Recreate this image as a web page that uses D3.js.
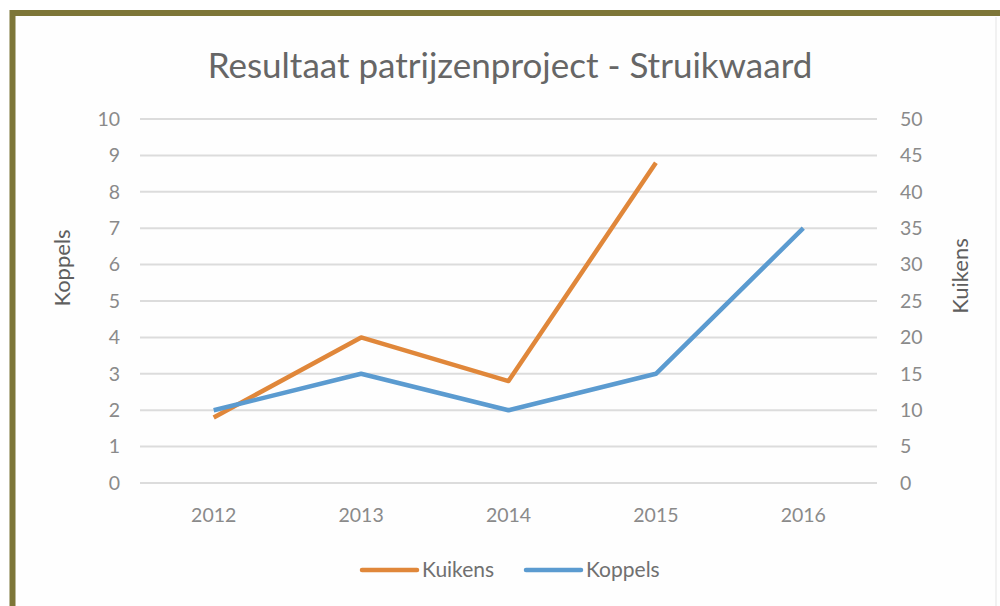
<!DOCTYPE html>
<html>
<head>
<meta charset="utf-8">
<script src="https://cdn.jsdelivr.net/npm/d3@7"></script>
<style>
  body { margin: 0; background: #fff; }
  svg text { font-family: Lato, "Open Sans", sans-serif; }
</style>
</head>
<body>
<div id="chart"></div>
<script>
// data
var years = ["2012", "2013", "2014", "2015", "2016"];
var koppels = [2, 3, 2, 3, 7];          // left axis
var kuikens = [9, 20, 14, 44, null];    // right axis
var leftTicks = [0, 1, 2, 3, 4, 5, 6, 7, 8, 9, 10];
var rightTicks = [0, 5, 10, 15, 20, 25, 30, 35, 40, 45, 50];

var W = 1000, H = 606;
var margin = {top: 119, left: 140, right: 123, bottom: 123};
var width = W - margin.left - margin.right;
var height = H - margin.top - margin.bottom;

var svg = d3.select("#chart").append("svg")
  .attr("width", W)
  .attr("height", H);

/* frame like the photo */
svg.append("rect")
  .attr("x", 12.5).attr("y", 13)
  .attr("width", W + 10).attr("height", H + 10)
  .attr("fill", "#fefefe")
  .attr("stroke", "#7d7638")
  .attr("stroke-width", 6);
svg.append("line")
  .attr("x1", 996).attr("x2", 996).attr("y1", 17).attr("y2", H)
  .attr("stroke", "#ececec").attr("stroke-width", 1.5);

/* scales */
var x = d3.scaleBand().domain(years).range([margin.left, margin.left + width]);
var yL = d3.scaleLinear().domain([0, 10]).range([margin.top + height, margin.top]);
var yR = d3.scaleLinear().domain([0, 50]).range([margin.top + height, margin.top]);

/* gridlines */
svg.append("g")
  .selectAll("line")
  .data(leftTicks)
  .join("line")
  .attr("x1", margin.left).attr("x2", margin.left + width)
  .attr("y1", function(d){ return yL(d); })
  .attr("y2", function(d){ return yL(d); })
  .attr("stroke", "#dcdcdc")
  .attr("stroke-width", 2);

/* axes */
var leftAxis = svg.append("g")
  .attr("transform", "translate(" + (margin.left - 20) + ",0)")
  .call(d3.axisLeft(yL).tickValues(leftTicks).tickSize(0).tickPadding(0));
var rightAxis = svg.append("g")
  .attr("transform", "translate(" + (margin.left + width + 23) + ",0)")
  .call(d3.axisRight(yR).tickValues(rightTicks).tickSize(0).tickPadding(0));
var bottomAxis = svg.append("g")
  .attr("transform", "translate(0," + (margin.top + height + 22) + ")")
  .call(d3.axisBottom(x).tickSize(0).tickPadding(0));

[leftAxis, rightAxis, bottomAxis].forEach(function(a){
  a.select(".domain").remove();
  a.selectAll("text")
    .style("font-family", "Lato, sans-serif")
    .style("font-size", "19.5px")
    .attr("fill", "#8a8a8a");
});
bottomAxis.selectAll("text").attr("dy", "0.85em");

/* lines */
var lineL = d3.line()
  .defined(function(d){ return d != null; })
  .x(function(d, i){ return x(years[i]) + x.bandwidth() / 2; })
  .y(function(d){ return yL(d); });
var lineR = d3.line()
  .defined(function(d){ return d != null; })
  .x(function(d, i){ return x(years[i]) + x.bandwidth() / 2; })
  .y(function(d){ return yR(d); });

svg.append("path")
  .datum(kuikens)
  .attr("d", lineR)
  .attr("fill", "none")
  .attr("stroke", "#e0873a")
  .attr("stroke-width", 4.5)
  .attr("stroke-linejoin", "round");

svg.append("path")
  .datum(koppels)
  .attr("d", lineL)
  .attr("fill", "none")
  .attr("stroke", "#5b9bd0")
  .attr("stroke-width", 4.5)
  .attr("stroke-linejoin", "round");

/* title */
svg.append("text")
  .attr("x", 510).attr("y", 78)
  .attr("text-anchor", "middle")
  .attr("fill", "#666")
  .style("font-size", "35px")
  .text("Resultaat patrijzenproject - Struikwaard");

/* axis titles */
svg.append("text")
  .attr("transform", "translate(70,268) rotate(-90)")
  .attr("text-anchor", "middle")
  .attr("fill", "#5f5f5f")
  .style("font-size", "22px")
  .text("Koppels");
svg.append("text")
  .attr("transform", "translate(968,276) rotate(-90)")
  .attr("text-anchor", "middle")
  .attr("fill", "#5f5f5f")
  .style("font-size", "22px")
  .text("Kuikens");

/* legend */
var legend = [
  {name: "Kuikens", color: "#e0873a", x: 362},
  {name: "Koppels", color: "#5b9bd0", x: 526}
];
var lg = svg.append("g").selectAll("g").data(legend).join("g")
  .attr("transform", function(d){ return "translate(" + d.x + ",570)"; });
lg.append("line")
  .attr("x1", 0).attr("x2", 55)
  .attr("stroke", function(d){ return d.color; })
  .attr("stroke-width", 4.5)
  .attr("stroke-linecap", "round");
lg.append("text")
  .attr("x", 60).attr("dy", "0.35em")
  .attr("fill", "#707070")
  .style("font-size", "21px")
  .text(function(d){ return d.name; });
</script>
</body>
</html>
